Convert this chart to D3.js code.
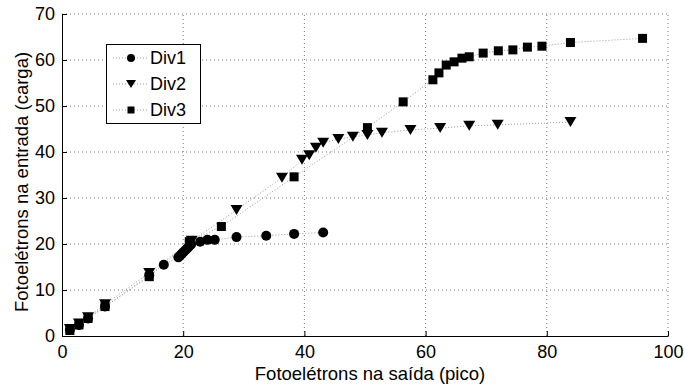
<!DOCTYPE html>
<html>
<head>
<meta charset="utf-8">
<script src="https://cdn.jsdelivr.net/npm/d3@7/dist/d3.min.js"></script>
<style>
  html, body { margin: 0; padding: 0; background: #fff; }
  svg { display: block; font-family: "Liberation Sans", Arial, Helvetica, sans-serif; }
</style>
</head>
<body>
<svg id="chart" width="684" height="385"></svg>
<script>
// Series: photoelectrons at output (pico) vs photoelectrons at input (charge)
const div1X = [1.3, 2.8, 4.3, 7.1, 14.4, 16.8, 19.2, 19.5, 19.8, 20.1, 20.4, 20.7, 21.0, 21.3, 22.8, 24.0, 25.2, 28.8, 33.7, 38.3, 43.1];
const div1Y = [1.3, 2.4, 3.8, 6.4, 13.2, 15.5, 17.1, 17.5, 17.9, 18.3, 18.7, 19.1, 19.5, 19.9, 20.5, 20.9, 20.9, 21.5, 21.8, 22.2, 22.5];

const div2X = [1.3, 2.8, 4.3, 7.1, 14.4, 21.4, 28.8, 36.3, 39.6, 40.8, 41.9, 43.1, 45.6, 48.0, 50.4, 52.8, 57.5, 62.4, 67.2, 71.9, 83.9];
const div2Y = [1.5, 2.7, 4.1, 6.9, 13.7, 20.7, 27.4, 34.4, 38.3, 39.3, 40.9, 42.0, 42.8, 43.3, 43.7, 44.2, 44.8, 45.2, 45.7, 45.9, 46.5];

const div3X = [1.3, 2.8, 4.3, 7.1, 14.4, 21.0, 26.3, 38.3, 50.4, 56.3, 61.2, 62.2, 63.4, 64.7, 66.0, 67.2, 69.5, 72.0, 74.4, 76.8, 79.2, 83.9, 95.8];
const div3Y = [1.2, 2.4, 3.8, 6.4, 12.9, 20.5, 23.8, 34.6, 45.3, 50.9, 55.7, 57.2, 58.9, 59.6, 60.4, 60.7, 61.5, 62.0, 62.2, 62.8, 63.0, 63.8, 64.7];

const seriesNames = ["Div1", "Div2", "Div3"];
const xTicks = [0, 20, 40, 60, 80, 100];
const yTicks = [0, 10, 20, 30, 40, 50, 60, 70];
const xTitle = "Fotoelétrons na saída (pico)";
const yTitle = "Fotoelétrons na entrada (carga)";

const series = [
  { name: seriesNames[0], shape: "circle", pts: div1X.map((x, i) => [x, div1Y[i]]) },
  { name: seriesNames[1], shape: "triangle", pts: div2X.map((x, i) => [x, div2Y[i]]) },
  { name: seriesNames[2], shape: "square", pts: div3X.map((x, i) => [x, div3Y[i]]) }
];

const svg = d3.select("#chart");
const L = 62, R = 668, T = 14, B = 336;
const FS = 18;
const x = d3.scaleLinear().domain([0, 100]).range([L, R]);
const y = d3.scaleLinear().domain([0, 70]).range([B, T]);

// dotted grid
const grid = svg.append("g");
grid.selectAll(".gx").data(xTicks.filter(d => d > 0)).join("line")
  .attr("x1", d => x(d)).attr("x2", d => x(d)).attr("y1", B).attr("y2", T)
  .attr("stroke", "#777").attr("stroke-width", 1).attr("stroke-dasharray", "1,3");
grid.selectAll(".gy").data(yTicks.filter(d => d > 0)).join("line")
  .attr("x1", L).attr("x2", R).attr("y1", d => y(d)).attr("y2", d => y(d))
  .attr("stroke", "#777").attr("stroke-width", 1).attr("stroke-dasharray", "1,3");

// axes
const xAxis = d3.axisBottom(x).tickValues(xTicks).tickSizeInner(-5).tickSizeOuter(0).tickPadding(9);
const yAxis = d3.axisLeft(y).tickValues(yTicks).tickSizeInner(-5).tickSizeOuter(0).tickPadding(7);
const gx = svg.append("g").attr("transform", `translate(0,${B})`).call(xAxis);
const gy = svg.append("g").attr("transform", `translate(${L},0)`).call(yAxis);
[gx, gy].forEach(g => {
  g.select(".domain").attr("stroke", "#000").attr("stroke-width", 1);
  g.selectAll(".tick line").attr("stroke", "#000");
  g.selectAll(".tick text").attr("fill", "#000").attr("font-size", FS)
    .attr("font-family", "'Liberation Sans', Arial, sans-serif");
});

// series lines
const line = d3.line().x(d => x(d[0])).y(d => y(d[1]));
series.forEach(s => {
  svg.append("path").datum(s.pts).attr("d", line)
    .attr("fill", "none").attr("stroke", "#999").attr("stroke-width", 1)
    .attr("stroke-dasharray", "1,2");
});

// marker drawing
function drawMarker(g, shape, cx, cy) {
  if (shape === "circle") {
    g.append("circle").attr("cx", cx).attr("cy", cy).attr("r", 5).attr("fill", "#000");
  } else if (shape === "triangle") {
    g.append("path").attr("d", `M${cx - 6},${cy - 5}L${cx + 6},${cy - 5}L${cx},${cy + 5}Z`).attr("fill", "#000");
  } else {
    g.append("rect").attr("x", cx - 4.5).attr("y", cy - 4.5).attr("width", 9).attr("height", 9).attr("fill", "#000");
  }
}

const marks = svg.append("g");
series.forEach(s => {
  s.pts.forEach(p => drawMarker(marks, s.shape, x(p[0]), y(p[1])));
});

// legend
const lg = svg.append("g");
lg.append("rect").attr("x", 106.5).attr("y", 44.5).attr("width", 94).attr("height", 79)
  .attr("fill", "#fff").attr("stroke", "#000").attr("stroke-width", 1);
const legY = [58, 84, 110];
series.forEach((s, i) => {
  lg.append("line").attr("x1", 113).attr("x2", 148).attr("y1", legY[i]).attr("y2", legY[i])
    .attr("stroke", "#999").attr("stroke-dasharray", "1,2");
  const sm = lg.append("g");
  if (s.shape === "circle") sm.append("circle").attr("cx", 131).attr("cy", legY[i]).attr("r", 4).attr("fill", "#000");
  else if (s.shape === "triangle") sm.append("path").attr("d", `M${126},${legY[i] - 4}L${136},${legY[i] - 4}L${131},${legY[i] + 4}Z`).attr("fill", "#000");
  else sm.append("rect").attr("x", 127.5).attr("y", legY[i] - 3.5).attr("width", 7).attr("height", 7).attr("fill", "#000");
  lg.append("text").attr("x", 150).attr("y", legY[i]).attr("dy", "0.36em")
    .attr("font-size", FS).attr("fill", "#000").text(s.name);
});

// axis titles
svg.append("text").attr("x", 370).attr("y", 380).attr("text-anchor", "middle")
  .attr("font-size", 18.5).attr("fill", "#000").text(xTitle);
svg.append("text").attr("transform", `translate(28,182) rotate(-90)`)
  .attr("text-anchor", "middle").attr("font-size", 18.5).attr("fill", "#000").text(yTitle);
</script>
</body>
</html>
